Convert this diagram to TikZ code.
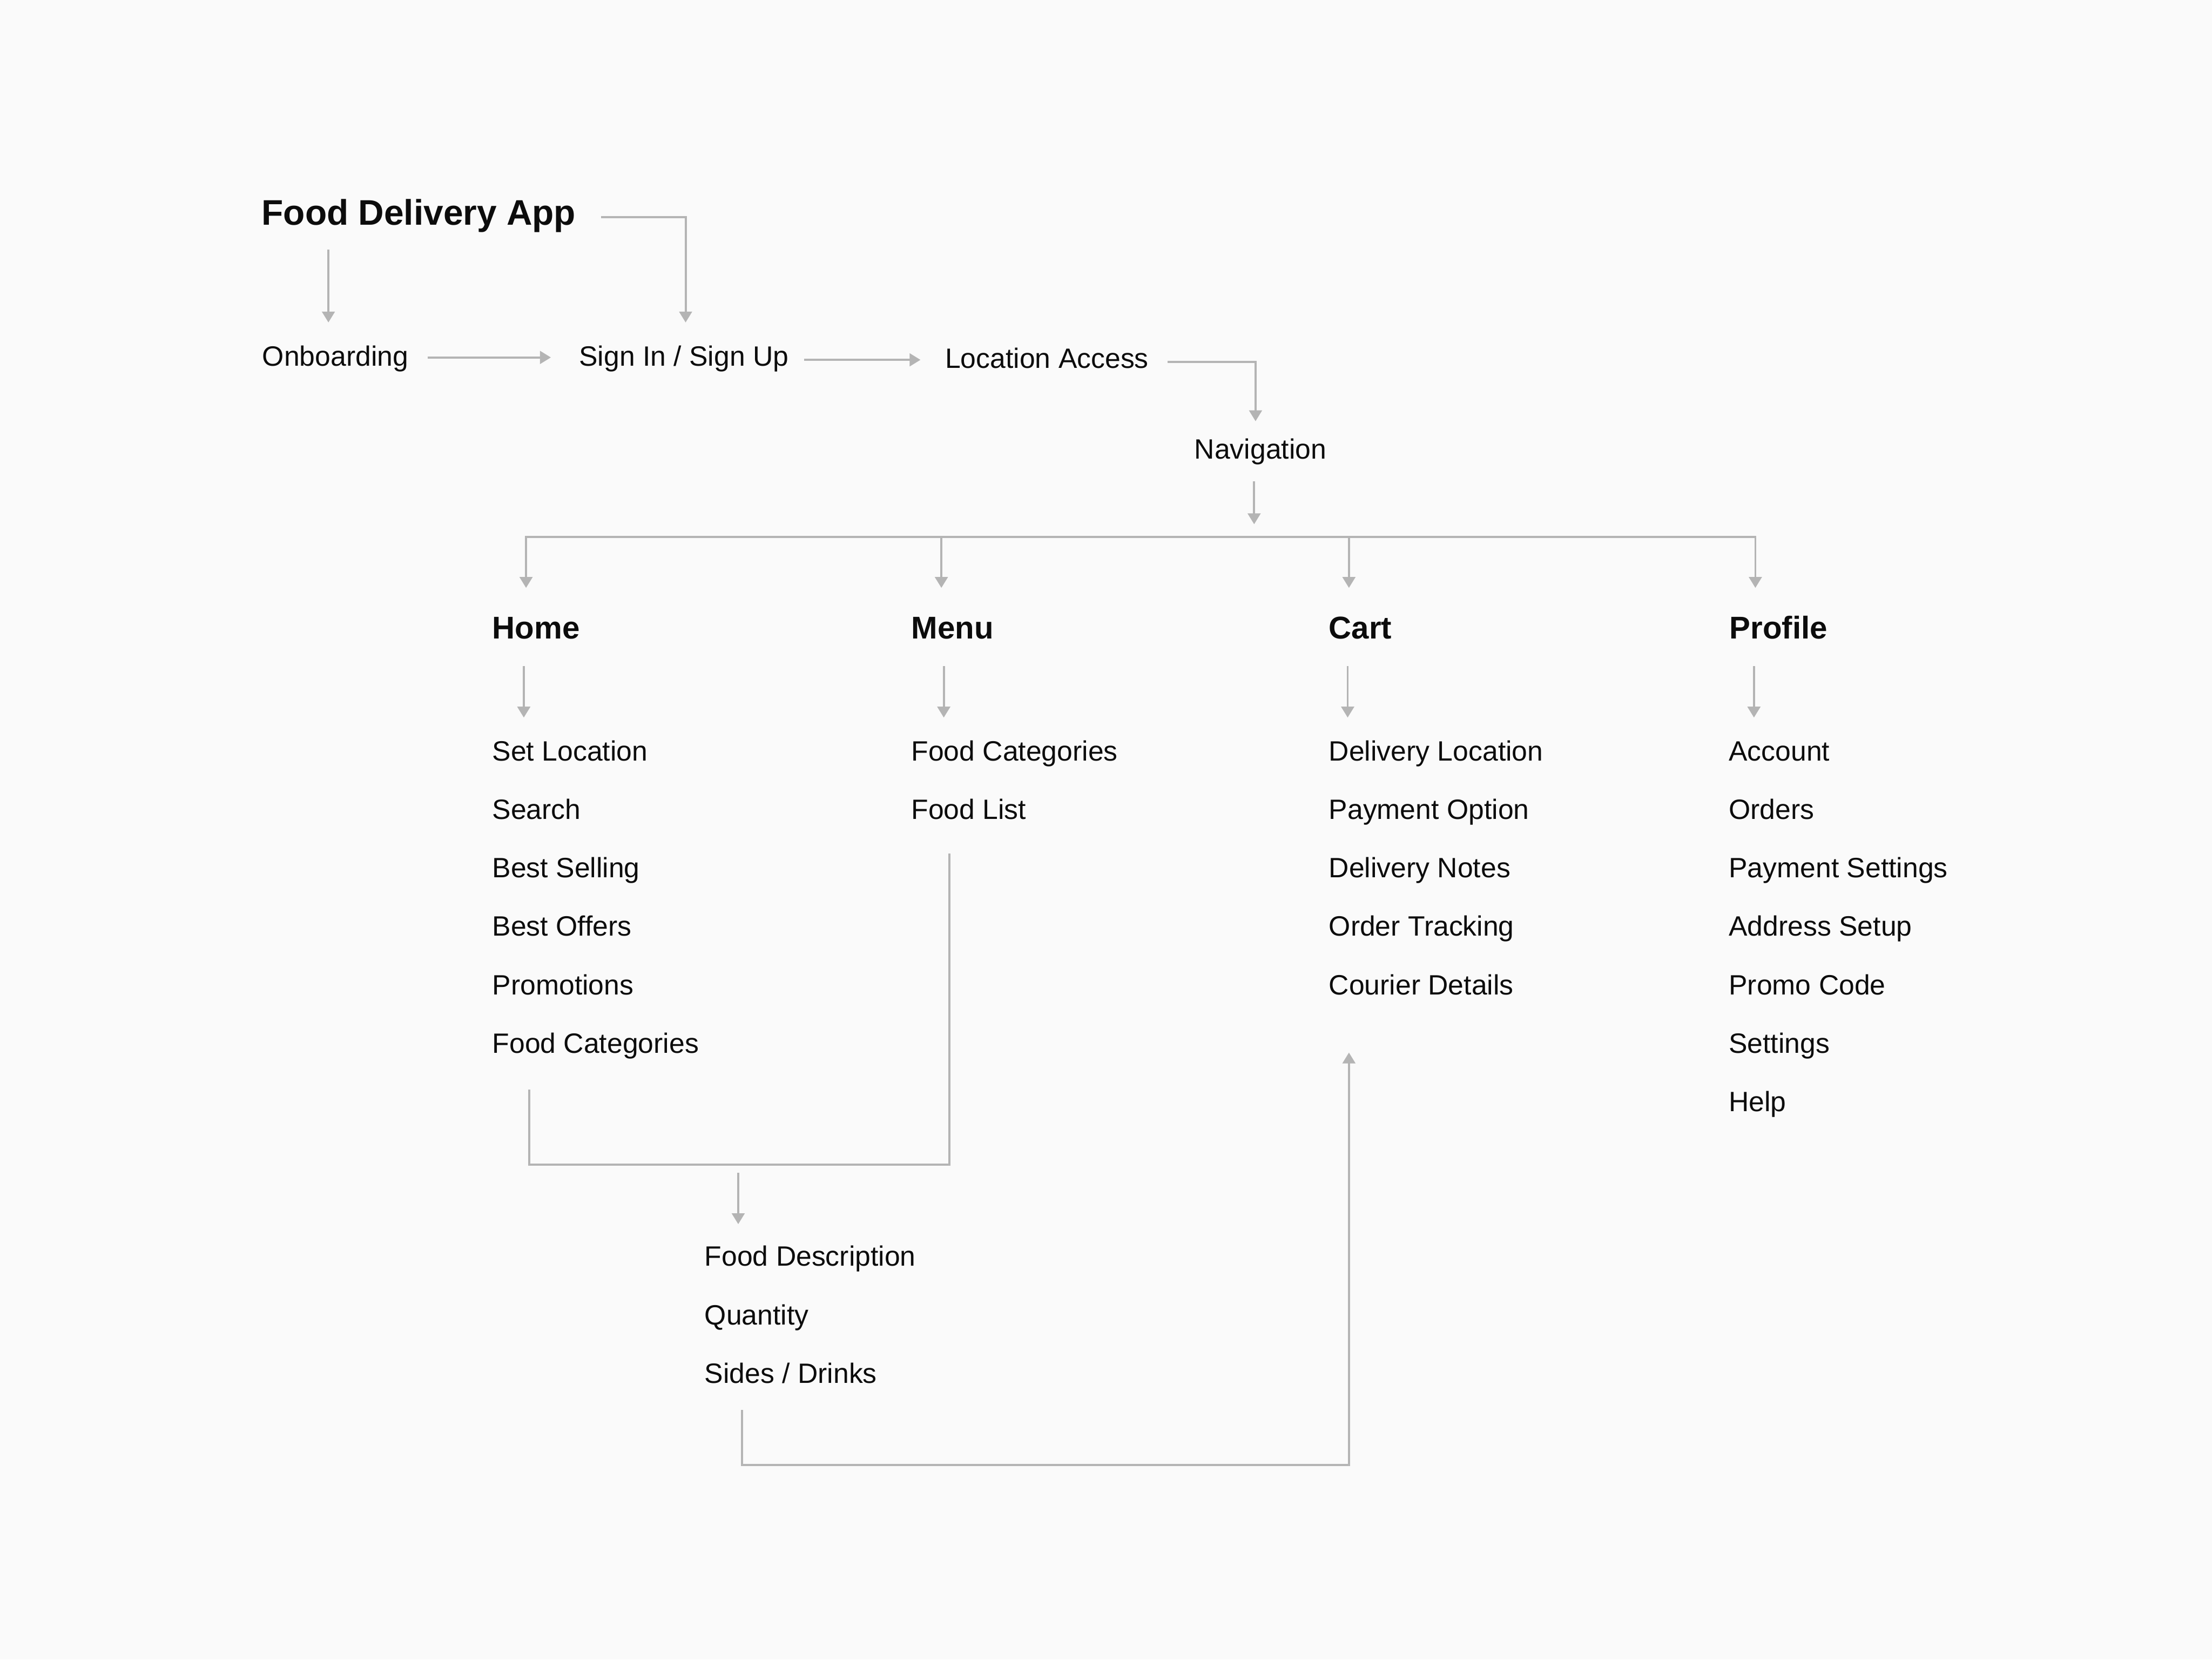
\documentclass[tikz,border=0pt]{standalone}
\usepackage{fontspec}
\setmainfont{Liberation Sans}
\usetikzlibrary{arrows.meta}
\definecolor{bgc}{HTML}{FAFAFA}
\definecolor{linec}{HTML}{B4B4B4}
\definecolor{txtc}{HTML}{0C0C0C}
\tikzset{
  lbl/.style={anchor=base west, inner sep=0pt, outer sep=0pt, text=txtc, font=\fontsize{19.8pt}{23pt}\selectfont},
  head/.style={lbl, font=\fontsize{22.3pt}{26pt}\selectfont\bfseries},
  ttl/.style={lbl, font=\fontsize{25.2pt}{30pt}\selectfont\bfseries},
  conn/.style={draw=linec, line width=1.5pt, line join=miter},
  arr/.style={conn, -{Triangle[width=9pt,length=7.7pt]}},
}
\begin{document}
\begin{tikzpicture}[x=1pt,y=-1pt]
\fill[bgc] (0,0) rectangle (1568,1176);
\useasboundingbox (0,0) rectangle (1568,1176);

% texts
\node[ttl] (fda) at (185.5,159.6) {Food Delivery App};
\node[lbl] (onb) at (186,259.3) {Onboarding};
\node[lbl] (sign) at (410.5,259.5) {Sign In / Sign Up};
\node[lbl] (loc) at (670,260.8) {Location Access};
\node[lbl] (nav) at (846.7,325.3) {Navigation};

\node[head] (home) at (349,452.5) {Home};
\node[head] (menu) at (646,452.5) {Menu};
\node[head] (cart) at (942,452.5) {Cart};
\node[head] (prof) at (1226,452.5) {Profile};

\foreach \t [count=\i] in {Set Location,Search,Best Selling,Best Offers,Promotions,Food Categories}
  \node[lbl] (h\i) at (349,{539.2+41.4*(\i-1)}) {\t};
\foreach \t [count=\i] in {Food Categories,Food List}
  \node[lbl] (m\i) at (646,{539.2+41.4*(\i-1)}) {\t};
\foreach \t [count=\i] in {Delivery Location,Payment Option,Delivery Notes,Order Tracking,Courier Details}
  \node[lbl] (c\i) at (942,{539.2+41.4*(\i-1)}) {\t};
\foreach \t [count=\i] in {Account,Orders,Payment Settings,Address Setup,Promo Code,Settings,Help}
  \node[lbl] (p\i) at (1225.5,{539.2+41.4*(\i-1)}) {\t};
\foreach \t [count=\i] in {Food Description,Quantity,Sides / Drinks}
  \node[lbl] (f\i) at (499.5,{897.2+41.5*(\i-1)}) {\t};

% connector end points
\coordinate (fda-s) at (232.8,177);
\coordinate (onb-n) at (232.8,228.5);
\coordinate (fda-e) at (426,154);
\coordinate (sign-n) at (486,228.5);
\coordinate (onb-e) at (303,253.3);
\coordinate (sign-w) at (390.5,253.3);
\coordinate (sign-e) at (570,255);
\coordinate (loc-w) at (652.5,255);
\coordinate (loc-e) at (827.6,256.5);
\coordinate (nav-n) at (890,298.5);
\coordinate (nav-s) at (889,341);
\coordinate (bus-n) at (889,371.5);
\coordinate (home-n) at (372.9,416.6);
\coordinate (menu-n) at (667.3,416.6);
\coordinate (cart-n) at (956.2,416.6);
\coordinate (prof-n) at (1244.3,416.6);
\coordinate (busL) at (372.9,380.4);
\coordinate (busR) at (1244.3,380.4);
\coordinate (home-s) at (371.3,472);
\coordinate (h1-n) at (371.3,508.5);
\coordinate (menu-s) at (669,472);
\coordinate (m1-n) at (669,508.5);
\coordinate (cart-s) at (955.3,472);
\coordinate (c1-n) at (955.3,508.5);
\coordinate (prof-s) at (1243.3,472);
\coordinate (p1-n) at (1243.3,508.5);
\coordinate (h6-s) at (375,772);
\coordinate (m2-s) at (673,605);
\coordinate (join-s) at (523.3,831);
\coordinate (f1-n) at (523.3,867.5);
\coordinate (f3-s) at (526,999.2);
\coordinate (c5-s) at (956.2,745.9);

% connectors
\draw[arr] (fda-s) -- (onb-n);
\draw[arr] (fda-e) -| (sign-n);
\draw[arr] (onb-e) -- (sign-w);
\draw[arr] (sign-e) -- (loc-w);
\draw[arr] (loc-e) -| (nav-n);
\draw[arr] (nav-s) -- (bus-n);
\draw[conn, {Triangle[width=9pt,length=7.7pt]}-{Triangle[width=9pt,length=7.7pt]}] (home-n) -- (busL) -- (busR) -- (prof-n);
\draw[arr] (menu-n |- busL) -- (menu-n);
\draw[arr] (cart-n |- busL) -- (cart-n);
\draw[arr] (home-s) -- (h1-n);
\draw[arr] (menu-s) -- (m1-n);
\draw[arr] (cart-s) -- (c1-n);
\draw[arr] (prof-s) -- (p1-n);
\draw[conn] (h6-s) -- (375,825.3) -- (673,825.3) -- (m2-s);
\draw[arr] (join-s) -- (f1-n);
\draw[arr] (f3-s) -- (526,1038.3) -- (956.2,1038.3) -- (c5-s);
\end{tikzpicture}
\end{document}
